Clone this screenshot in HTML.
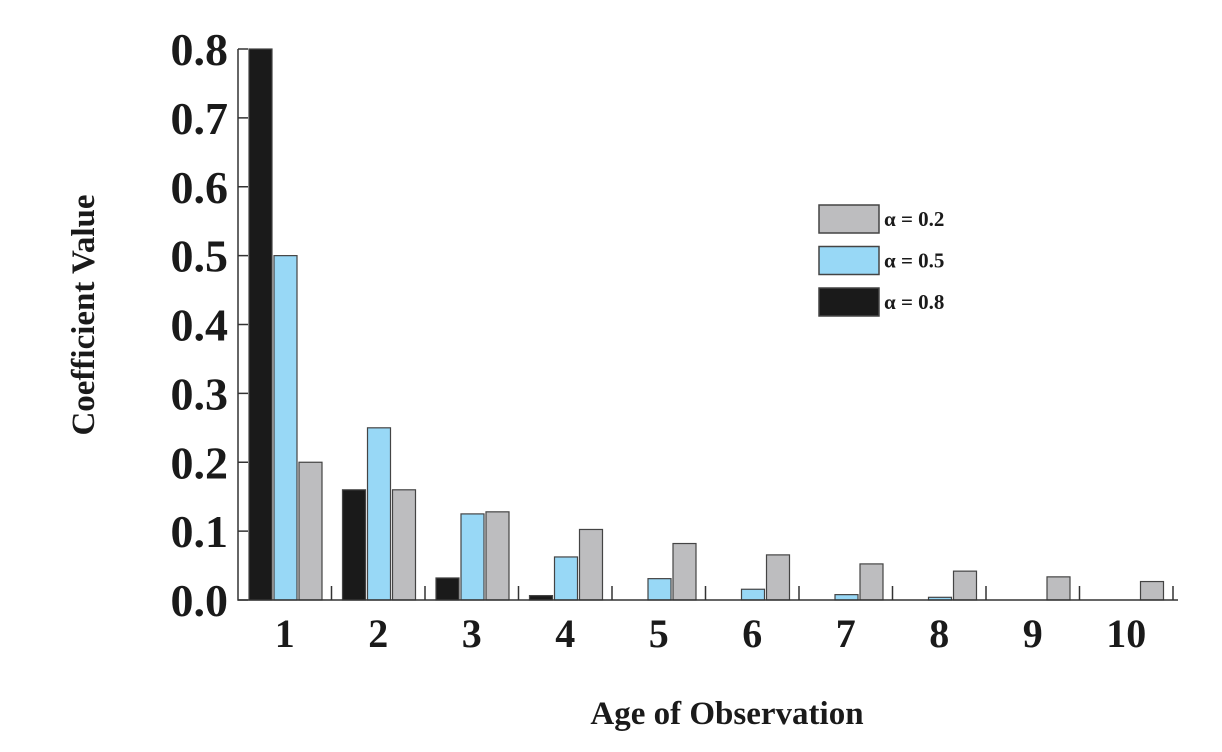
<!DOCTYPE html>
<html><head><meta charset="utf-8"><style>
html,body{margin:0;padding:0;background:#fff;}
svg{display:block;font-family:"Liberation Serif",serif;font-weight:bold;}
</style></head><body>
<svg id="chart" width="1222" height="752" xmlns="http://www.w3.org/2000/svg"></svg>
<script>
const categories = ['1','2','3','4','5','6','7','8','9','10'];
const seriesA08 = [0.8, 0.16, 0.032, 0.0064, 0.0013, 0.0003, 0.0001, 0, 0, 0];
const seriesA05 = [0.5, 0.25, 0.125, 0.0625, 0.031, 0.0156, 0.0078, 0.0039, 0.002, 0.001];
const seriesA02 = [0.2, 0.16, 0.128, 0.1024, 0.082, 0.0655, 0.0524, 0.0419, 0.0336, 0.0268];
const yTicks = ['0.0','0.1','0.2','0.3','0.4','0.5','0.6','0.7','0.8'];
const seriesNames = ['α = 0.2','α = 0.5','α = 0.8'];

const NS='http://www.w3.org/2000/svg';
const svg=document.getElementById('chart');
const x0=238, y0=600, yTop=49, yMax=0.8, band=93.5;
const yS=v=>y0-(v/yMax)*(y0-yTop);
const xBand=i=>x0+band*i;
function el(tag,attrs,parent){const e=document.createElementNS(NS,tag);for(const k in attrs)e.setAttribute(k,attrs[k]);(parent||svg).appendChild(e);return e;}

const series=[{d:seriesA08,c:'#1a1a1a',n:'series-alpha-0-8'},{d:seriesA05,c:'#98d8f6',n:'series-alpha-0-5'},{d:seriesA02,c:'#bdbdbf',n:'series-alpha-0-2'}];
series.forEach((s,si)=>{
  const g=el('g',{});
  
  
  s.d.forEach((v,i)=>{
    const bx=xBand(i)+11+si*25;
    const h=y0-yS(v);
    if(h<1.5) return;
    const r=el('rect',{x:bx,y:yS(v),width:23,height:h,fill:s.c,stroke:'#444','stroke-width':1.2},g);
    
    
  });
});

const ax=el('path',{d:`M${x0},${yTop} L${x0},${y0} L1178,${y0}`,fill:'none',stroke:'#333','stroke-width':1.5});


yTicks.forEach((t,i)=>{
  const v=parseFloat(t), y=yS(v);
  const tk=el('line',{x1:x0,x2:x0+10,y1:y,y2:y,stroke:'#333','stroke-width':1.5});
  
  
  const tx=el('text',{x:228,y:y+16,'text-anchor':'end','font-size':46,fill:'#1a1a1a'});
  tx.textContent=t;
  
  
});
categories.forEach((c,i)=>{
  const xt=xBand(i+1);
  const tk=el('line',{x1:xt,x2:xt,y1:y0,y2:y0-14,stroke:'#333','stroke-width':1.5});
  
  
  const tx=el('text',{x:xBand(i)+band/2,y:647,'text-anchor':'middle','font-size':40,fill:'#1a1a1a'});
  tx.textContent=c;
  
  
});
const yt=el('text',{x:0,y:0,transform:'translate(94,315) rotate(-90)','text-anchor':'middle','font-size':33,fill:'#1a1a1a'});
yt.textContent='Coefficient Value';


const xt=el('text',{x:727,y:724,'text-anchor':'middle','font-size':33,fill:'#1a1a1a'});
xt.textContent='Age of Observation';



const lg=el('g',{});


const lc=['#bdbdbf','#98d8f6','#1a1a1a'];
seriesNames.forEach((n,i)=>{
  const y=205+i*41.5;
  const r=el('rect',{x:819,y:y,width:60,height:28,fill:lc[i],stroke:'#444','stroke-width':1.5},lg);
  
  
  const t=el('text',{x:884,y:y+21,'font-size':21,fill:'#1a1a1a'},lg);
  t.textContent=n;
  
  
});
</script>
</body></html>
